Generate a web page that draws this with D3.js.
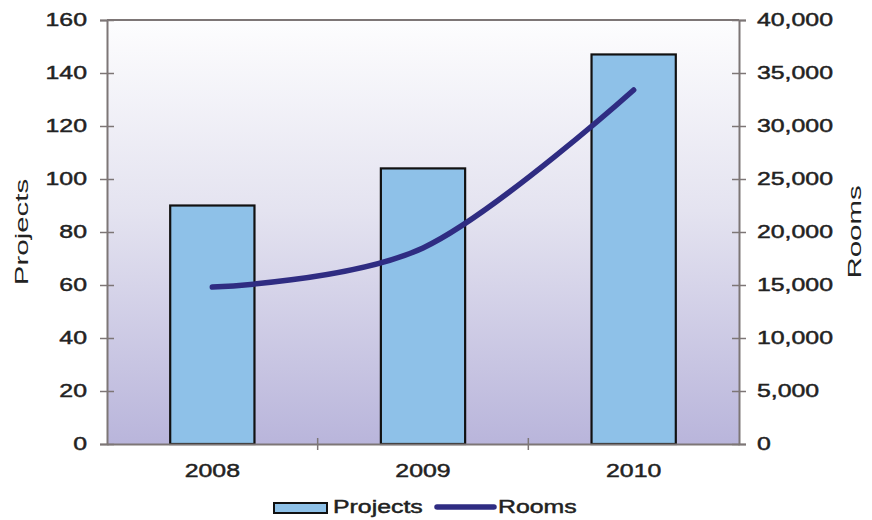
<!DOCTYPE html>
<html>
<head>
<meta charset="utf-8">
<script src="https://cdn.jsdelivr.net/npm/d3@7"></script>
<style>
  html, body { margin: 0; padding: 0; background: #fff; }
  svg { display: block; font-family: "Liberation Sans", Arial, sans-serif; }
  .lbl { stroke: #222; stroke-width: 0.45px; }
</style>
</head>
<body>
<svg id="chart" width="872" height="520"></svg>
<script>
// Chart data
const years = ["2008", "2009", "2010"];
const projects = [90, 104, 147];
const rooms = [14800, 18500, 33400];
const projectTicks = [0, 20, 40, 60, 80, 100, 120, 140, 160];
const roomTicks = [0, 5000, 10000, 15000, 20000, 25000, 30000, 35000, 40000];
const legendLabels = ["Projects", "Rooms"];

const W = 872, H = 520;
const m = { top: 20, right: 133, bottom: 76, left: 107 };
const iw = W - m.left - m.right;
const ih = H - m.top - m.bottom;
const stretch = 1.38;

const svg = d3.select("#chart");
const defs = svg.append("defs");
const grad = defs.append("linearGradient")
  .attr("id", "plotBg").attr("x1", 0).attr("y1", 0).attr("x2", 0).attr("y2", 1);
grad.append("stop").attr("offset", "0%").attr("stop-color", "#fdfdfe");
grad.append("stop").attr("offset", "45%").attr("stop-color", "#e4e3f0");
grad.append("stop").attr("offset", "100%").attr("stop-color", "#b9b5db");

const g = svg.append("g").attr("transform", `translate(${m.left},${m.top})`);

const x = d3.scaleBand().domain(years).range([0, iw]).paddingInner(0.6).paddingOuter(0.3);
const yL = d3.scaleLinear().domain([0, 160]).range([ih, 0]);
const yR = d3.scaleLinear().domain([0, 40000]).range([ih, 0]);

// plot background
g.append("rect").attr("width", iw).attr("height", ih).attr("fill", "url(#plotBg)");

// bars
g.selectAll("rect.bar").data(projects).join("rect")
  .attr("class", "bar")
  .attr("x", (d, i) => x(years[i]))
  .attr("y", d => yL(d))
  .attr("width", x.bandwidth())
  .attr("height", d => ih - yL(d))
  .attr("fill", "#8ec1e8")
  .attr("stroke", "#111")
  .attr("stroke-width", 2.2);

// rooms line
const line = d3.line()
  .x((d, i) => x(years[i]) + x.bandwidth() / 2)
  .y(d => yR(d))
  .curve(d3.curveCatmullRom.alpha(0));
g.append("path").datum(rooms)
  .attr("d", line)
  .attr("fill", "none")
  .attr("stroke", "#2f2c82")
  .attr("stroke-width", 5.5)
  .attr("stroke-linecap", "round");

const axisColor = "#7d7676";
const textColor = "#222";

function styleAxis(sel) {
  sel.select(".domain").attr("stroke", axisColor).attr("stroke-width", 2);
  sel.selectAll(".tick line").attr("stroke", axisColor).attr("stroke-width", 1.5);
  sel.selectAll(".tick text").attr("fill", textColor).attr("class", "lbl").style("font-size", "18px");
}

// top frame line
g.append("line").attr("x1", 0).attr("x2", iw).attr("y1", 0).attr("y2", 0)
  .attr("stroke", axisColor).attr("stroke-width", 2);

// left axis
const axL = g.append("g")
  .call(d3.axisLeft(yL).tickValues(projectTicks).tickSizeOuter(0).tickSize(7));
styleAxis(axL);
axL.selectAll(".tick line").attr("x1", 7).attr("x2", -7);
axL.selectAll(".tick text")
  .attr("x", 0)
  .attr("transform", `translate(-20,0) scale(${stretch},1)`);

// right axis
const axR = g.append("g").attr("transform", `translate(${iw},0)`)
  .call(d3.axisRight(yR).tickValues(roomTicks).tickSizeOuter(0).tickSize(7).tickFormat(d3.format(",")));
styleAxis(axR);
axR.selectAll(".tick line").attr("x1", -7).attr("x2", 7);
axR.selectAll(".tick text")
  .attr("x", 0)
  .attr("transform", `translate(18,0) scale(${stretch},1)`);

// bottom axis: labels at band centres, tick marks at band boundaries
const axB = g.append("g").attr("transform", `translate(0,${ih})`)
  .call(d3.axisBottom(x).tickSize(0).tickSizeOuter(0));
styleAxis(axB);
axB.selectAll(".tick text")
  .attr("y", 0).attr("dy", 0)
  .attr("transform", `translate(0,33) scale(${stretch},1)`);
const bounds = years.slice(1).map(d => x(d) - x.step() * x.paddingInner() / 2);
axB.selectAll("line.sep").data(bounds).join("line")
  .attr("class", "sep")
  .attr("x1", d => d).attr("x2", d => d)
  .attr("y1", -6).attr("y2", 6)
  .attr("stroke", axisColor).attr("stroke-width", 1.5);

// axis titles
svg.append("g").attr("transform", `translate(28,${m.top + ih / 2}) rotate(-90)`)
  .append("text").attr("text-anchor", "middle")
  .attr("transform", "scale(1.55,1)")
  .style("font-size", "19px").attr("fill", textColor)
  .text("Projects");
svg.append("g").attr("transform", `translate(861,${m.top + ih / 2}) rotate(-90)`)
  .append("text").attr("text-anchor", "middle")
  .attr("transform", "scale(1.55,1)")
  .style("font-size", "19px").attr("fill", textColor)
  .text("Rooms");

// legend
const lg = svg.append("g");
lg.append("rect").attr("x", 274).attr("y", 503).attr("width", 53).attr("height", 10)
  .attr("fill", "#8ec1e8").attr("stroke", "#111").attr("stroke-width", 2);
lg.append("text").attr("class", "lbl")
  .attr("transform", `translate(333,513) scale(${stretch},1)`)
  .style("font-size", "18px").attr("fill", textColor)
  .text(legendLabels[0]);
lg.append("line").attr("x1", 437).attr("x2", 494).attr("y1", 507).attr("y2", 507)
  .attr("stroke", "#2f2c82").attr("stroke-width", 5.5).attr("stroke-linecap", "round");
lg.append("text").attr("class", "lbl")
  .attr("transform", `translate(498,513) scale(${stretch},1)`)
  .style("font-size", "18px").attr("fill", textColor)
  .text(legendLabels[1]);
</script>
</body>
</html>
